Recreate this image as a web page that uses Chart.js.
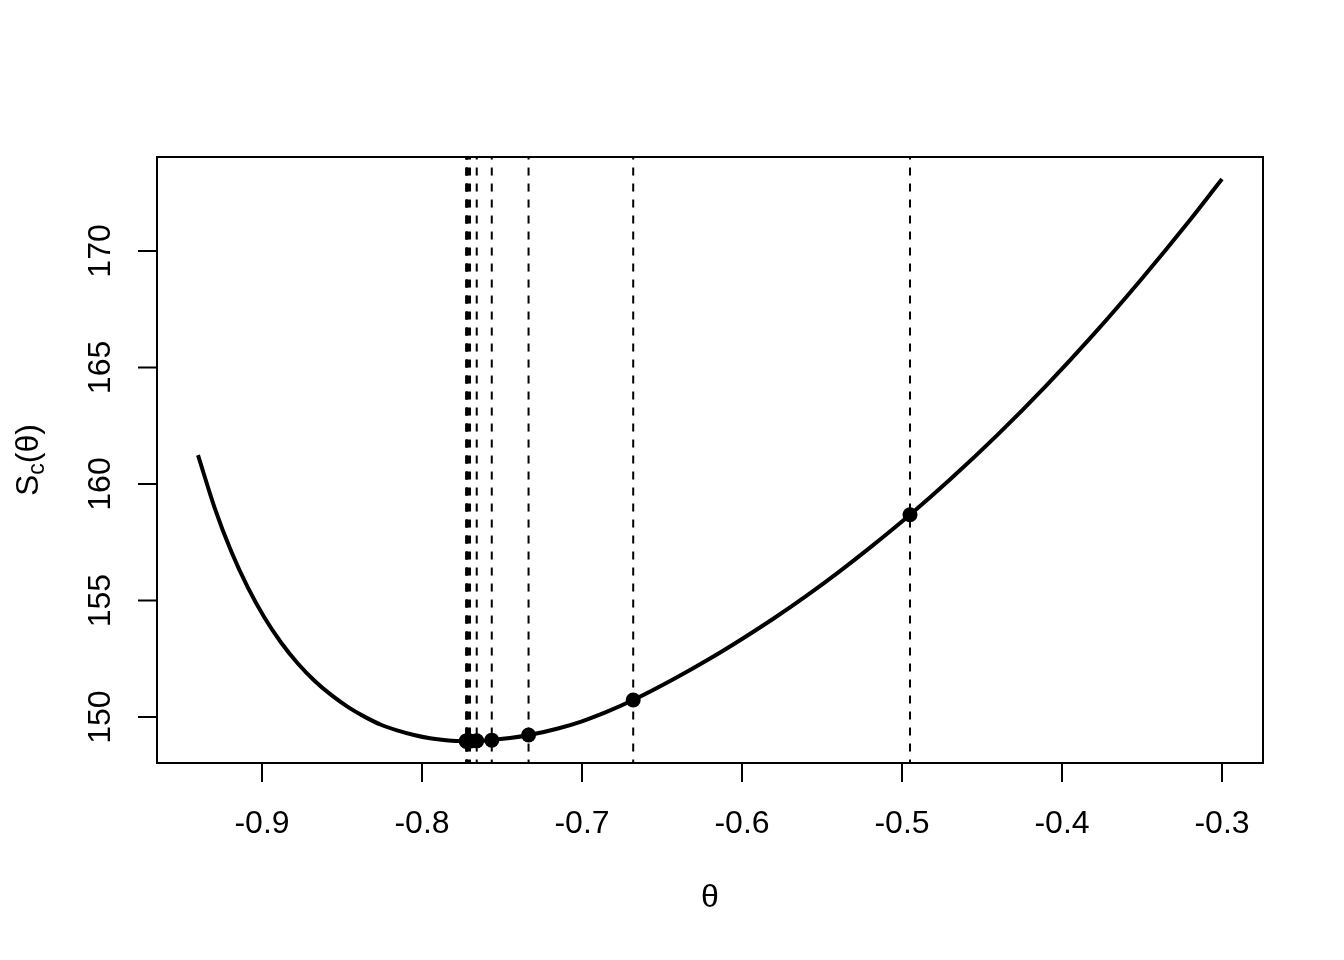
<!DOCTYPE html>
<html>
<head>
<meta charset="utf-8">
<script src="https://cdn.jsdelivr.net/npm/chart.js@4"></script>
<style>
    html, body { margin: 0; padding: 0; background: #fff; }
    #wrap { width: 1344px; height: 960px; }
</style>
</head>
<body>
<div id="wrap"><canvas id="chart" width="1344" height="960"></canvas></div>
<script>
// Curve S_c(theta)
const thetaGrid = [-0.94, -0.9296, -0.9192, -0.9088, -0.8984, -0.888, -0.8776, -0.8672, -0.8568,
    -0.8464, -0.836, -0.8256, -0.815, -0.805, -0.795, -0.785, -0.773, -0.76, -0.745, -0.733,
    -0.715, -0.70, -0.685, -0.668, -0.6429, -0.62, -0.60, -0.58, -0.56, -0.54, -0.52,
    -0.495, -0.47, -0.44, -0.41, -0.38, -0.35, -0.32, -0.30];
const scValues = [161.24, 158.98, 157.10, 155.55, 154.26, 153.19, 152.30, 151.56, 150.95,
    150.44, 150.02, 149.67, 149.42, 149.23, 149.09, 149.01, 148.97, 149.00, 149.10, 149.23,
    149.51, 149.82, 150.21, 150.73, 151.62, 152.51, 153.35, 154.24, 155.19, 156.20, 157.27,
    158.68, 160.19, 162.13, 164.21, 166.44, 168.82, 171.33, 173.09];

// Iterates (points + dashed vertical lines)
const iterTheta = [-0.495, -0.668, -0.7334, -0.7564, -0.7658, -0.7700, -0.7712, -0.7719, -0.7722, -0.7724];
const iterSc = [158.68, 150.73, 149.23, 149.01, 148.98, 148.97, 148.97, 148.97, 148.97, 148.97];

// Axes
const xTicks = [-0.9, -0.8, -0.7, -0.6, -0.5, -0.4, -0.3];
const yTicks = [150, 155, 160, 165, 170];
const xRange = [-0.965625, -0.274375];
const yRange = [148.03, 174.03];

const FONT = '"Liberation Sans", Arial, Helvetica, sans-serif';

// dashed vertical line datasets
const vlines = iterTheta.map(t => ({
    type: 'line',
    data: [{ x: t, y: yRange[0] - 5 }, { x: t, y: yRange[1] + 5 }],
    borderColor: '#000',
    borderWidth: 2,
    borderDash: [8, 8],
    pointRadius: 0,
    fill: false
}));

// Box, ticks, labels drawn R-style
const baseAxes = {
    id: 'baseAxes',
    afterDraw(chart) {
        const { ctx, chartArea: a, scales } = chart;
        const x = scales.x, y = scales.y;
        ctx.save();
        ctx.strokeStyle = '#000';
        ctx.fillStyle = '#000';
        ctx.lineWidth = 2;
        ctx.strokeRect(a.left, a.top, a.right - a.left, a.bottom - a.top);

        // x axis
        const x0 = x.getPixelForValue(xTicks[0]);
        const x1 = x.getPixelForValue(xTicks[xTicks.length - 1]);
        ctx.beginPath();
        ctx.moveTo(x0, a.bottom);
        ctx.lineTo(x1, a.bottom);
        xTicks.forEach(v => {
            const px = x.getPixelForValue(v);
            ctx.moveTo(px, a.bottom);
            ctx.lineTo(px, a.bottom + 19);
        });
        ctx.stroke();
        ctx.font = '32px ' + FONT;
        ctx.textAlign = 'center';
        ctx.textBaseline = 'middle';
        xTicks.forEach(v => {
            ctx.fillText(v.toFixed(1), x.getPixelForValue(v), a.bottom + 61);
        });

        // y axis
        const y0 = y.getPixelForValue(yTicks[0]);
        const y1 = y.getPixelForValue(yTicks[yTicks.length - 1]);
        ctx.beginPath();
        ctx.moveTo(a.left, y0);
        ctx.lineTo(a.left, y1);
        yTicks.forEach(v => {
            const py = y.getPixelForValue(v);
            ctx.moveTo(a.left, py);
            ctx.lineTo(a.left - 19, py);
        });
        ctx.stroke();
        yTicks.forEach(v => {
            ctx.save();
            ctx.translate(a.left - 56, y.getPixelForValue(v));
            ctx.rotate(-Math.PI / 2);
            ctx.fillText(String(v), 0, 0);
            ctx.restore();
        });

        // x title
        ctx.fillText('θ', (a.left + a.right) / 2, a.bottom + 135);

        // y title: S_c(θ)
        ctx.save();
        ctx.translate(a.left - 130, (a.top + a.bottom) / 2);
        ctx.rotate(-Math.PI / 2);
        ctx.textAlign = 'left';
        ctx.textBaseline = 'alphabetic';
        const big = '32px ' + FONT, small = '23px ' + FONT;
        ctx.font = big;
        const wS = ctx.measureText('S').width;
        const wP = ctx.measureText('(θ)').width;
        ctx.font = small;
        const wc = ctx.measureText('c').width;
        let sx = -(wS + wc + wP) / 2;
        const base = 11;
        ctx.font = big;
        ctx.fillText('S', sx, base);
        sx += wS;
        ctx.font = small;
        ctx.fillText('c', sx, base + 6);
        sx += wc;
        ctx.font = big;
        ctx.fillText('(θ)', sx, base);
        ctx.restore();

        ctx.restore();
    }
};

new Chart(document.getElementById('chart'), {
    type: 'line',
    data: {
        datasets: [
            ...vlines,
            {
                type: 'line',
                data: thetaGrid.map((t, i) => ({ x: t, y: scValues[i] })),
                borderColor: '#000',
                borderWidth: 4,
                pointRadius: 0,
                cubicInterpolationMode: 'monotone',
                fill: false
            },
            {
                type: 'scatter',
                data: iterTheta.map((t, i) => ({ x: t, y: iterSc[i] })),
                backgroundColor: '#000',
                borderWidth: 0,
                pointRadius: 7.5
            }
        ]
    },
    options: {
        responsive: false,
        animation: false,
        devicePixelRatio: 1,
        layout: { padding: { left: 157, right: 81, top: 157, bottom: 197 } },
        plugins: {
            legend: { display: false },
            tooltip: { enabled: false }
        },
        scales: {
            x: { type: 'linear', min: xRange[0], max: xRange[1], display: false },
            y: { type: 'linear', min: yRange[0], max: yRange[1], display: false }
        }
    },
    plugins: [baseAxes]
});
</script>
</body>
</html>
